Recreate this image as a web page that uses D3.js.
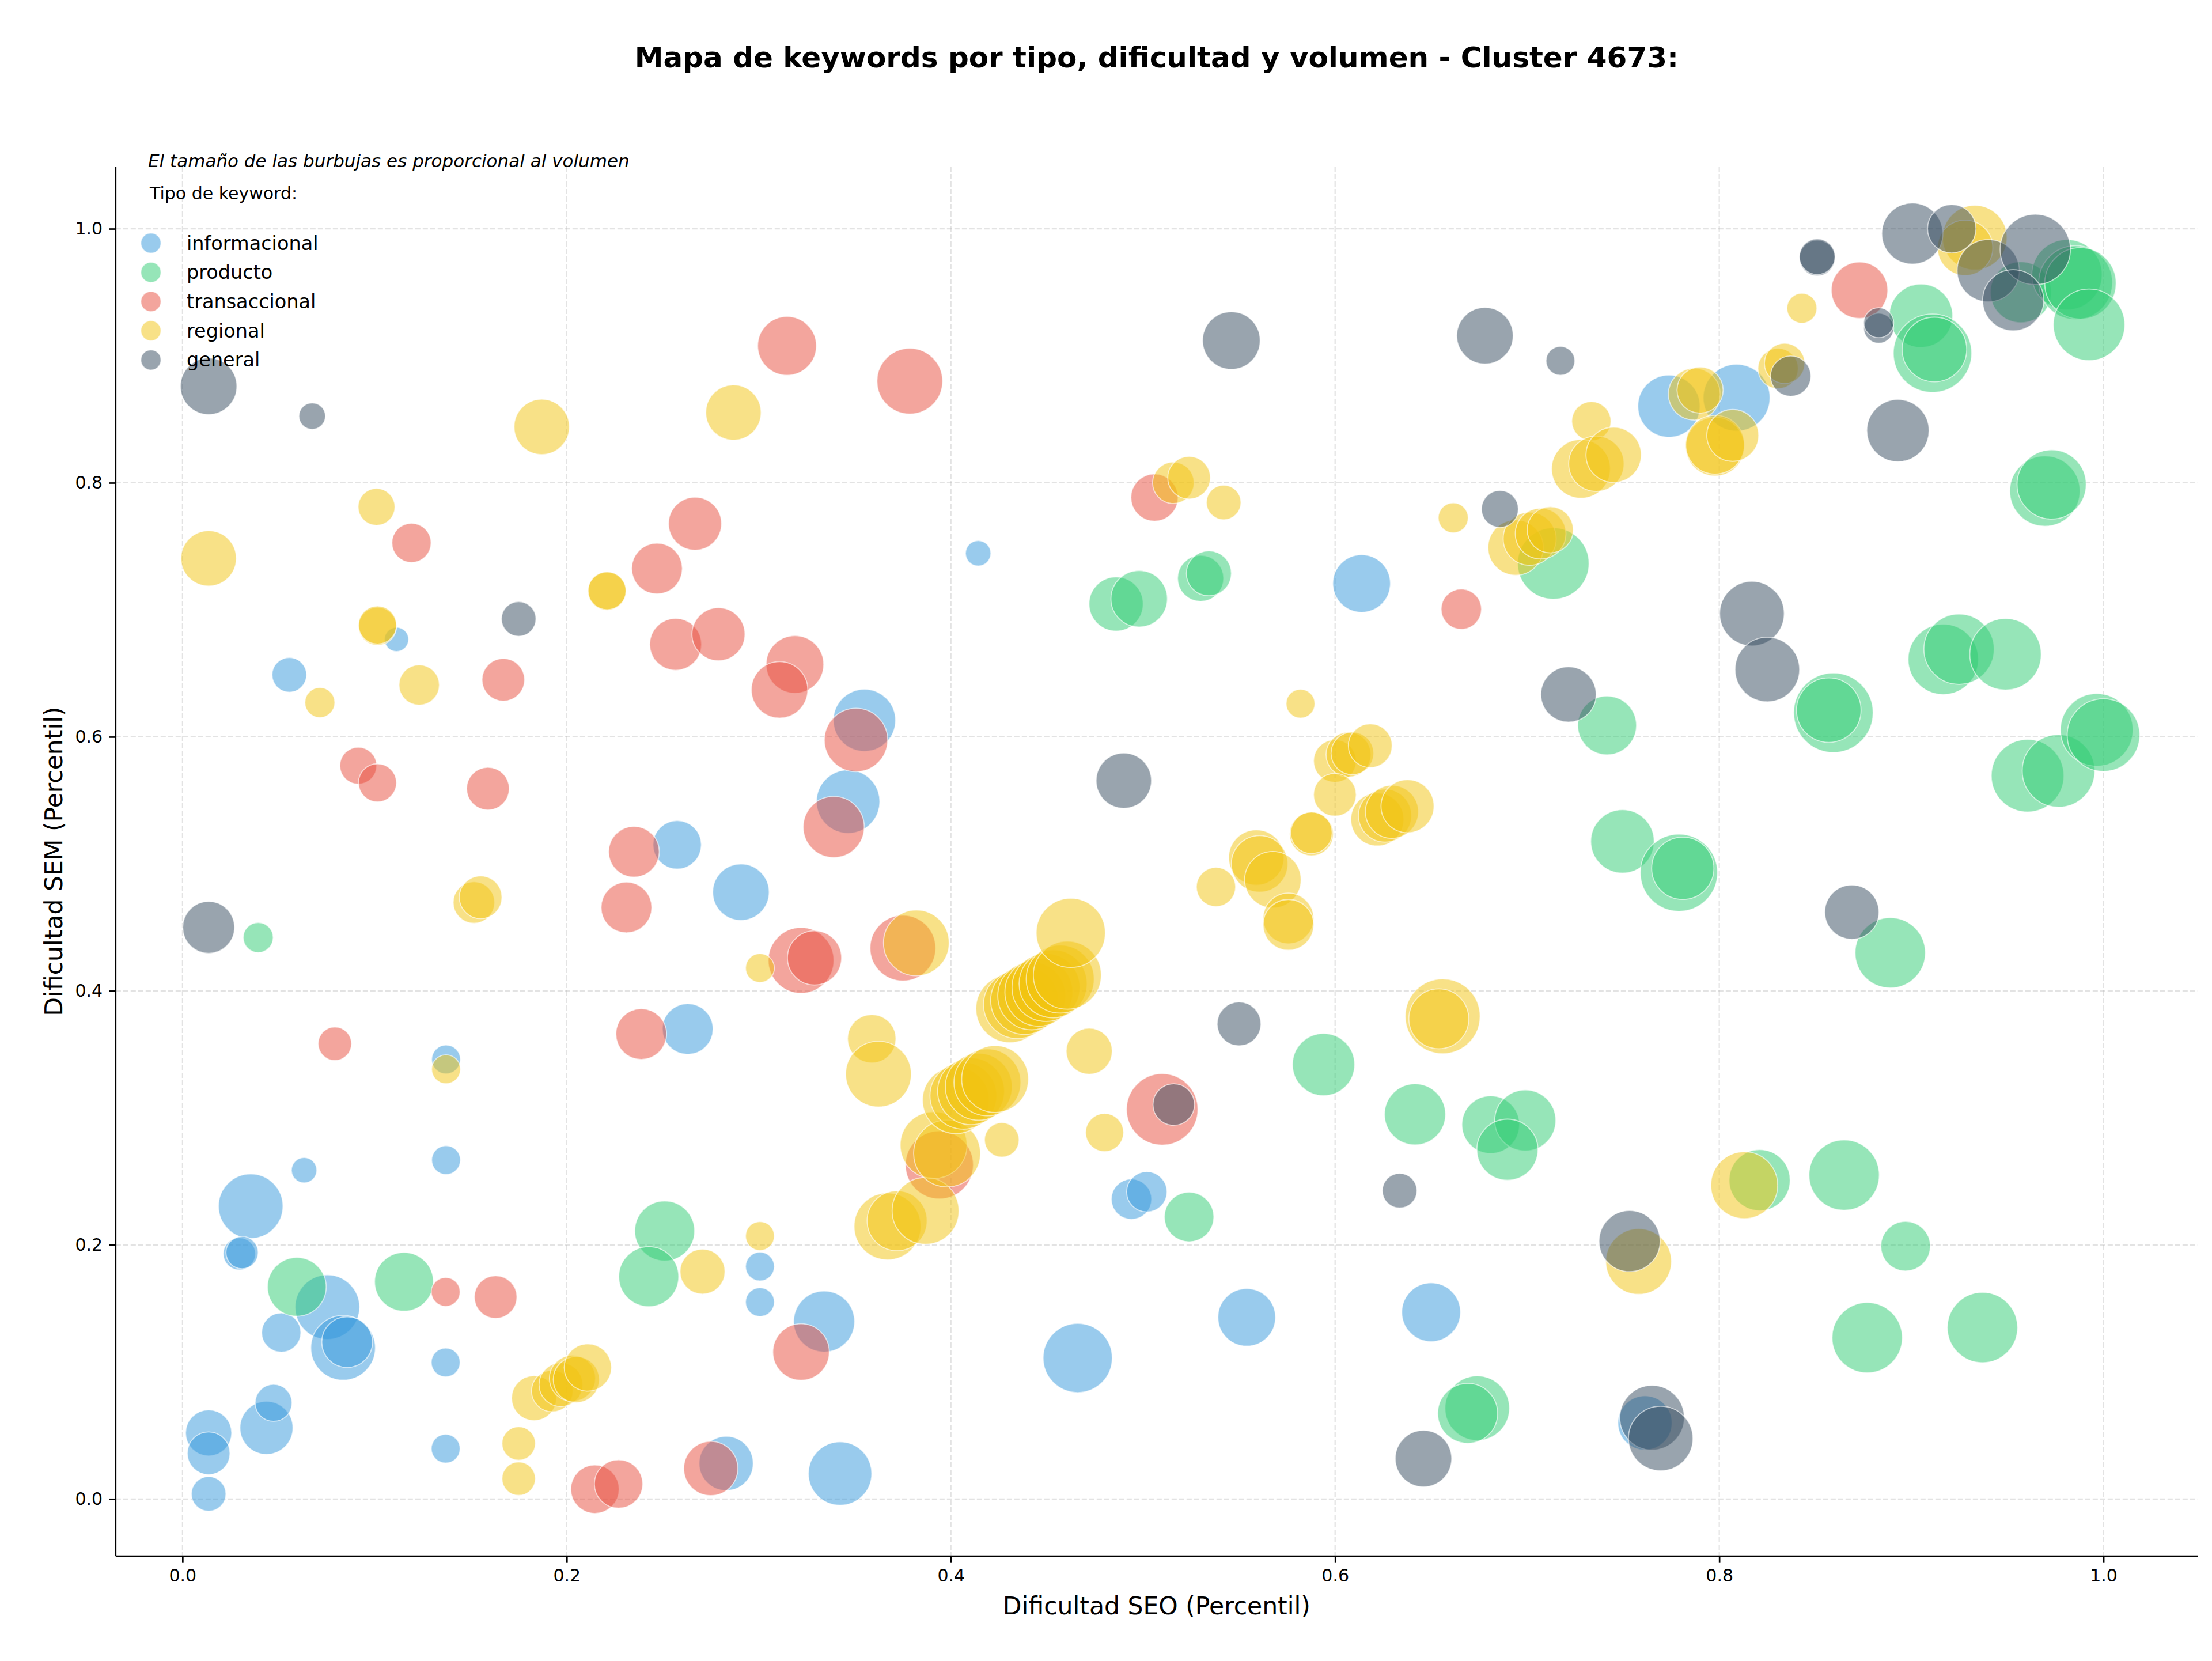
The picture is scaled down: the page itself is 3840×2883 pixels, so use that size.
<!DOCTYPE html>
<html><head><meta charset="utf-8">
<script src="https://cdn.jsdelivr.net/npm/d3@7"></script>
<style>body{margin:0;background:#fff}svg{display:block}</style>
</head><body>
<svg id="chart" width="3840" height="2883"></svg>
<script>
// ---------- DATA ----------
const titulo = "Mapa de keywords por tipo, dificultad y volumen - Cluster 4673:";
const nota = "El tamaño de las burbujas es proporcional al volumen";
const tituloLeyenda = "Tipo de keyword:";
const etiquetaX = "Dificultad SEO (Percentil)";
const etiquetaY = "Dificultad SEM (Percentil)";
const tipos = ["informacional", "producto", "transaccional", "regional", "general"];
const colores = ["#3498db", "#2ecc71", "#e74c3c", "#f1c40f", "#34495e"];
const xTicks = [0.0, 0.2, 0.4, 0.6, 0.8, 1.0];
const yTicks = [0.0, 0.2, 0.4, 0.6, 0.8, 1.0];

// [dificultad SEO, dificultad SEM, volumen]
const informacional = [
  [0.0355,0.2305,3136],[0.0296,0.193,784],[0.031,0.194,784],[0.0754,0.151,3136],[0.0514,0.131,1156],
  [0.0836,0.119,3136],[0.0857,0.1235,1936],[0.137,0.1075,625],[0.137,0.0396,625],[0.0136,0.052,1600],
  [0.0136,0.036,1369],[0.0136,0.004,900],[0.0437,0.056,2116],[0.0474,0.0757,1024],[0.283,0.028,2209],
  [0.3006,0.183,625],[0.3006,0.155,625],[0.334,0.1397,2809],[0.3423,0.020,3025],[0.466,0.111,3600],
  [0.554,0.143,2500],[0.650,0.147,2601],[0.494,0.236,1225],[0.502,0.2418,1225],[0.7613,0.0599,2209],
  [0.4142,0.7445,484],[0.6138,0.7207,2500],[0.1114,0.6767,441],[0.0556,0.6488,900],[0.355,0.613,2916],
  [0.3465,0.549,3025],[0.2575,0.515,1764],[0.2907,0.4777,2401],[0.263,0.370,1936],[0.1372,0.346,625],
  [0.1372,0.2668,625],[0.0633,0.2588,484],[0.7738,0.8603,2916],[0.809,0.867,3364]
];
const producto = [
  [0.0595,0.167,2601],[0.1153,0.171,2601],[0.251,0.211,2704],[0.2427,0.175,2704],[0.0394,0.442,676],
  [0.524,0.222,1849],[0.594,0.342,2916],[0.6416,0.3028,2809],[0.681,0.2947,2500],[0.699,0.298,2809],
  [0.6897,0.275,2809],[0.674,0.0715,3136],[0.669,0.0674,2704],[0.821,0.251,2809],[0.865,0.255,3721],
  [0.897,0.199,1849],[0.877,0.127,3721],[0.937,0.135,3721],[0.889,0.430,3721],[0.7496,0.5177,3025],
  [0.779,0.493,4489],[0.781,0.4965,2916],[0.7416,0.609,2601],[0.8594,0.619,4761],[0.857,0.621,3136],
  [0.9166,0.661,3721],[0.9248,0.669,3721],[0.949,0.665,3844],[0.9605,0.5694,3969],[0.9766,0.5732,3969],
  [0.9965,0.6055,3969],[1.0,0.6014,3969],[0.486,0.7046,2209],[0.498,0.7087,2401],[0.530,0.7248,1600],
  [0.5343,0.7287,1521],[0.7136,0.7365,3844],[0.9695,0.7935,3721],[0.973,0.7987,3600],[0.905,0.9315,3025],
  [0.911,0.902,4624],[0.912,0.905,3136],[0.957,0.950,2809],[0.981,0.9638,3721],[0.9855,0.9576,4096],
  [0.988,0.957,3844],[0.9925,0.9244,3844]
];
const transaccional = [
  [0.137,0.163,625],[0.163,0.159,1369],[0.2147,0.0077,1764],[0.227,0.0118,1764],[0.275,0.024,2209],
  [0.322,0.1157,2401],[0.0793,0.3584,841],[0.2388,0.366,1936],[0.2311,0.4657,1936],[0.235,0.5095,1936],
  [0.322,0.424,3249],[0.329,0.426,2209],[0.375,0.4337,3249],[0.51,0.3067,3844],[0.394,0.263,3481],
  [0.0915,0.5773,1024],[0.1015,0.5638,1089],[0.159,0.5592,1369],[0.167,0.6449,1369],[0.1192,0.7527,1156],
  [0.247,0.7325,1936],[0.2668,0.7678,2116],[0.2567,0.6728,2025],[0.279,0.6808,2116],[0.3188,0.657,2500],
  [0.3108,0.637,2401],[0.3506,0.5975,3025],[0.339,0.529,2809],[0.3147,0.9078,2601],[0.3786,0.880,3249],
  [0.506,0.7884,1681],[0.6657,0.7005,1225],[0.873,0.9516,2401]
];
const regional = [
  [0.175,0.0437,841],[0.175,0.016,841],[0.183,0.0794,1521],[0.1925,0.085,1296],[0.197,0.090,1444],
  [0.203,0.095,1600],[0.205,0.094,1600],[0.211,0.1035,1681],[0.2707,0.179,1521],[0.3006,0.207,625],
  [0.367,0.2146,3364],[0.372,0.219,2704],[0.3868,0.2268,3364],[0.391,0.2786,3364],[0.398,0.272,3364],
  [0.4265,0.2827,900],[0.48,0.2885,1089],[0.472,0.3525,1600],[0.3588,0.3623,1764],[0.3623,0.3345,3249],
  [0.4026,0.314,3364],[0.4065,0.3175,3364],[0.4105,0.321,3364],[0.4145,0.3245,3364],[0.419,0.328,3364],
  [0.423,0.3306,3364],
  [0.4307,0.386,3481],[0.4347,0.3892,3481],[0.4384,0.3925,3481],[0.4421,0.3961,3481],[0.4458,0.3990,3481],
  [0.4495,0.4027,3481],[0.4532,0.4056,3481],[0.4569,0.4093,3481],[0.4606,0.4124,3481],
  [0.4624,0.4457,3600],[0.382,0.4378,3249],[0.3006,0.418,625],[0.1517,0.4696,1296],[0.1552,0.4737,1369],
  [0.1372,0.3383,625],[0.0136,0.7405,2304],[0.101,0.781,1024],[0.1015,0.687,1089],[0.1015,0.688,1089],
  [0.0715,0.627,676],[0.1232,0.6408,1225],[0.221,0.7146,1089],[0.221,0.715,1089],[0.187,0.844,2304],
  [0.2868,0.8553,2304],[0.5158,0.80,1296],[0.524,0.804,1369],[0.542,0.7845,900],[0.6615,0.7724,676],
  [0.582,0.6261,625],[0.5999,0.581,1369],[0.607,0.586,1521],[0.609,0.587,1369],[0.6183,0.593,1444],
  [0.5999,0.5544,1369],[0.5877,0.5236,1444],[0.5877,0.5245,1296],[0.622,0.535,2116],[0.626,0.538,2116],
  [0.6296,0.541,2116],[0.6377,0.5454,2116],[0.538,0.4818,1156],[0.559,0.505,2304],[0.5607,0.500,2401],
  [0.5676,0.4875,2401],[0.5757,0.457,1936],[0.5757,0.452,1936],[0.656,0.380,4225],[0.654,0.378,2704],
  [0.813,0.247,3364],[0.758,0.187,3249],[0.694,0.749,2304],[0.7013,0.756,2116],[0.707,0.760,1936],
  [0.712,0.763,1600],[0.7334,0.8485,1156],[0.728,0.811,2601],[0.736,0.815,2304],[0.745,0.822,2304],
  [0.787,0.8698,2025],[0.79,0.873,1600],[0.7978,0.8285,2601],[0.7978,0.830,2601],[0.807,0.8373,2025],
  [0.8306,0.890,1225],[0.834,0.894,1225],[0.843,0.9374,676],[0.933,0.993,3136],[0.928,0.985,2304]
];
const general = [
  [0.0136,0.876,2401],[0.0675,0.8525,529],[0.175,0.6928,900],[0.0136,0.450,2025],[0.546,0.912,2500],
  [0.678,0.9158,2401],[0.6858,0.7794,1024],[0.7173,0.896,625],[0.490,0.5655,2304],[0.55,0.374,1444],
  [0.516,0.3105,1296],[0.6336,0.2427,900],[0.646,0.0318,2401],[0.765,0.064,3136],[0.7695,0.0476,3136],
  [0.7533,0.203,2809],[0.869,0.462,2209],[0.7215,0.6334,2304],[0.817,0.697,3136],[0.825,0.653,3136],
  [0.893,0.8411,2916],[0.8372,0.884,1225],[0.851,0.977,961],[0.851,0.978,961],[0.883,0.9217,676],
  [0.883,0.926,676],[0.9005,0.9962,2809],[0.921,1.000,1764],[0.940,0.967,2916],[0.9645,0.9837,3721],
  [0.953,0.9437,2809]
];
const series = [informacional, producto, transaccional, regional, general];

// ---------- LAYOUT ----------
const W = 3840, H = 2883;
const plot = {left: 200.8, right: 3815, top: 289, bottom: 2701};
const FONT = "'DejaVu Sans', sans-serif";

const svg = d3.select("#chart");
svg.append("rect").attr("width", W).attr("height", H).attr("fill", "#fff");

const x = d3.scaleLinear().domain([-0.0348, 1.049]).range([plot.left, plot.right]);
const y = d3.scaleLinear().domain([-0.045, 1.049]).range([plot.bottom, plot.top]);
const r = d3.scaleSqrt().domain([0, 10000]).range([0, 100]);

// grid
const grid = svg.append("g");
grid.selectAll("line.gx").data(xTicks).join("line")
  .attr("x1", d => x(d)).attr("x2", d => x(d))
  .attr("y1", plot.top).attr("y2", plot.bottom)
  .attr("stroke", "#b0b0b0").attr("stroke-opacity", 0.35)
  .attr("stroke-width", 2.2).attr("stroke-dasharray", "9,4");
grid.selectAll("line.gy").data(yTicks).join("line")
  .attr("y1", d => y(d)).attr("y2", d => y(d))
  .attr("x1", plot.left).attr("x2", plot.right)
  .attr("stroke", "#b0b0b0").attr("stroke-opacity", 0.35)
  .attr("stroke-width", 2.2).attr("stroke-dasharray", "9,4");

// bubbles
const bubbles = svg.append("g");
series.forEach((s, i) => {
  bubbles.append("g").selectAll("circle").data(s).join("circle")
    .attr("cx", d => x(d[0])).attr("cy", d => y(d[1])).attr("r", d => r(d[2]))
    .attr("fill", colores[i]).attr("fill-opacity", 0.5)
    .attr("stroke", "#fff").attr("stroke-opacity", 0.6).attr("stroke-width", 1.8);
});

// axes
const xAxis = d3.axisBottom(x).tickValues(xTicks).tickFormat(d3.format(".1f")).tickSize(11.7).tickPadding(11);
const yAxis = d3.axisLeft(y).tickValues(yTicks).tickFormat(d3.format(".1f")).tickSize(11.7).tickPadding(11);
const gx = svg.append("g").attr("transform", `translate(0,${plot.bottom})`).call(xAxis);
const gy = svg.append("g").attr("transform", `translate(${plot.left},0)`).call(yAxis);
[gx, gy].forEach(g => {
  g.select(".domain").attr("stroke", "#000").attr("stroke-width", 2.67);
  g.selectAll(".tick line").attr("stroke", "#000").attr("stroke-width", 2.67);
  g.selectAll(".tick text").attr("font-family", FONT).attr("font-size", 30).attr("fill", "#000");
});
gx.select(".domain").attr("d", `M${plot.left},0H${plot.right}`);
gy.select(".domain").attr("d", `M0,${plot.bottom}V${plot.top}`);

// labels
svg.append("text").attr("x", (plot.left + plot.right) / 2).attr("y", 100)
  .attr("text-anchor", "middle").attr("dominant-baseline", "central")
  .attr("font-family", FONT).attr("font-weight", "bold").attr("font-size", 50).text(titulo);
svg.append("text").attr("x", (plot.left + plot.right) / 2).attr("y", 2787)
  .attr("text-anchor", "middle").attr("dominant-baseline", "central")
  .attr("font-family", FONT).attr("font-size", 42.5).text(etiquetaX);
svg.append("text").attr("transform", `translate(93,${(plot.top + plot.bottom) / 2}) rotate(-90)`)
  .attr("text-anchor", "middle").attr("dominant-baseline", "central")
  .attr("font-family", FONT).attr("font-size", 42.5).text(etiquetaY);

// note
svg.append("text").attr("x", 257).attr("y", 279).attr("dominant-baseline", "central")
  .attr("font-family", FONT).attr("font-style", "italic").attr("font-size", 31).text(nota);

// legend
const leg = svg.append("g");
leg.append("text").attr("x", 260).attr("y", 335).attr("dominant-baseline", "central")
  .attr("font-family", FONT).attr("font-size", 30).text(tituloLeyenda);
tipos.forEach((t, i) => {
  const cy = 422 + i * 50.7;
  leg.append("circle").attr("cx", 262).attr("cy", cy).attr("r", 17.5)
    .attr("fill", colores[i]).attr("fill-opacity", 0.5)
    .attr("stroke", "#fff").attr("stroke-opacity", 0.6).attr("stroke-width", 1.8);
  leg.append("text").attr("x", 324).attr("y", cy).attr("dominant-baseline", "central")
    .attr("font-family", FONT).attr("font-size", 33.5).text(t);
});
</script>
</body></html>
